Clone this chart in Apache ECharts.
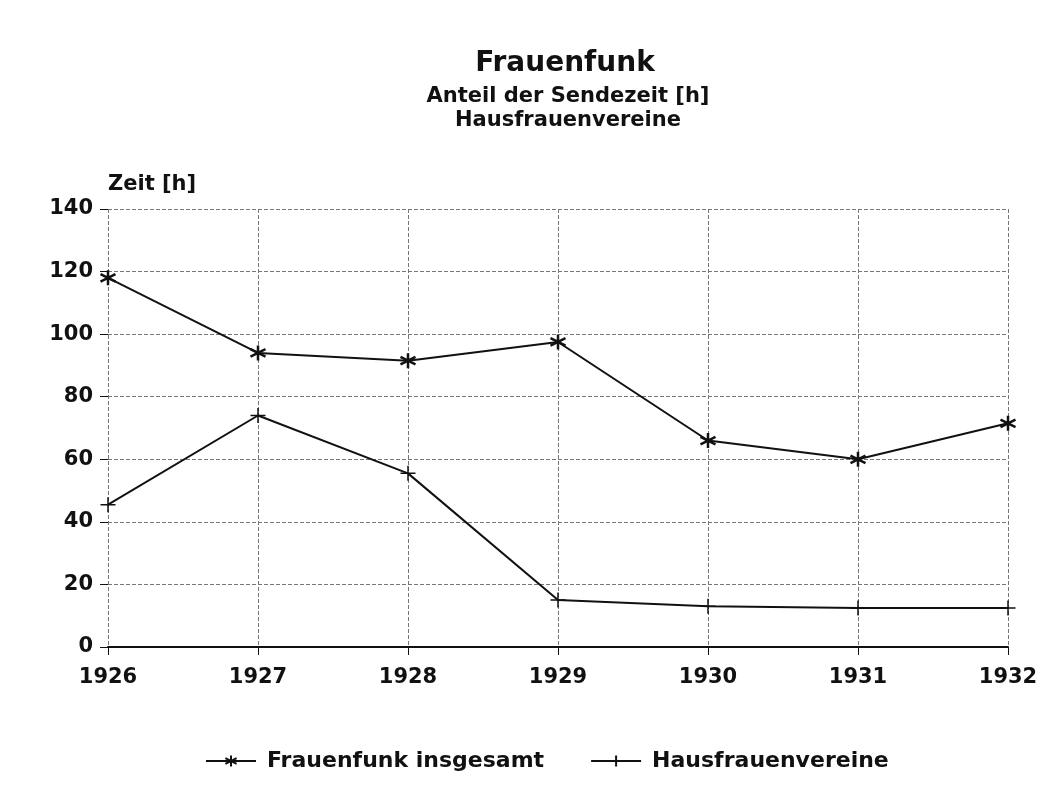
<!DOCTYPE html>
<html>
<head>
<meta charset="utf-8">
<script src="https://cdn.jsdelivr.net/npm/echarts@6/dist/echarts.min.js"></script>
<style>
  html, body { margin: 0; padding: 0; background: #fff; }
  #chart { width: 1043px; height: 807px; }
</style>
</head>
<body>
<div id="chart"></div>
<script>
// Jahre (Kategorien)
const years = ['1926', '1927', '1928', '1929', '1930', '1931', '1932']
// Sendezeit in Stunden
const frauenfunkTotal = [118, 94, 91.5, 97.5, 66, 60, 71.5]
const hausfrauenvereine = [45.5, 74, 55.5, 15, 13, 12.5, 12.5]
const seriesNames = ['Frauenfunk insgesamt', 'Hausfrauenvereine']

const starPath = 'path://M0,-10L0,10M-8.66,-5L8.66,5M-8.66,5L8.66,-5'
const plusPath = 'path://M0,-10L0,10M-10,0L10,0'
const font = 'DejaVu Sans, Arial, sans-serif'

const chart = echarts.init(document.getElementById('chart'))
chart.setOption({
  backgroundColor: '#fff',
  animation: false,
  title: [
    {
      text: 'Frauenfunk',
      left: 560, top: 45, textAlign: 'center',
      textStyle: { fontFamily: font, fontSize: 28, fontWeight: 'bold', color: '#111' }
    },
    {
      text: 'Anteil der Sendezeit [h]\nHausfrauenvereine',
      left: 563, top: 80, textAlign: 'center',
      textStyle: { fontFamily: font, fontSize: 21, fontWeight: 'bold', color: '#111', lineHeight: 24 }
    }
  ],
  grid: { left: 108, right: 35, top: 209, bottom: 160 },
  legend: {
    bottom: 30,
    left: 200,
    itemGap: 46,
    itemWidth: 50,
    itemHeight: 14,
    textStyle: { fontFamily: font, fontSize: 22, fontWeight: 'bold', color: '#111', padding: [0, 0, 0, 6] },
    data: seriesNames
  },
  xAxis: {
    type: 'category',
    data: years,
    boundaryGap: false,
    axisLine: { lineStyle: { color: '#111', width: 2 } },
    axisTick: { show: true, length: 8, lineStyle: { color: '#111' } },
    axisLabel: { margin: 20, fontFamily: font, fontSize: 21, fontWeight: 'bold', color: '#111' },
    splitLine: { show: true, lineStyle: { color: '#777', type: 'dashed', width: 1 } }
  },
  yAxis: {
    type: 'value',
    min: 0, max: 140, interval: 20,
    name: 'Zeit [h]',
    nameLocation: 'end',
    nameGap: 14,
    nameTextStyle: { fontFamily: font, fontSize: 21, fontWeight: 'bold', color: '#111', align: 'left' },
    axisLine: { show: false },
    axisTick: { show: true, length: 8, lineStyle: { color: '#111' } },
    axisLabel: { margin: 15, fontFamily: font, fontSize: 21, fontWeight: 'bold', color: '#111' },
    splitLine: { show: true, lineStyle: { color: '#777', type: 'dashed', width: 1 } }
  },
  series: [
    {
      name: seriesNames[0],
      type: 'line',
      data: frauenfunkTotal,
      symbol: starPath,
      symbolSize: 15,
      itemStyle: { color: '#111', borderColor: '#111', borderWidth: 2.5 },
      lineStyle: { color: '#111', width: 2 }
    },
    {
      name: seriesNames[1],
      type: 'line',
      data: hausfrauenvereine,
      symbol: plusPath,
      symbolSize: 15,
      itemStyle: { color: '#111', borderColor: '#111', borderWidth: 1.5 },
      lineStyle: { color: '#111', width: 2 }
    }
  ]
})
</script>
</body>
</html>
